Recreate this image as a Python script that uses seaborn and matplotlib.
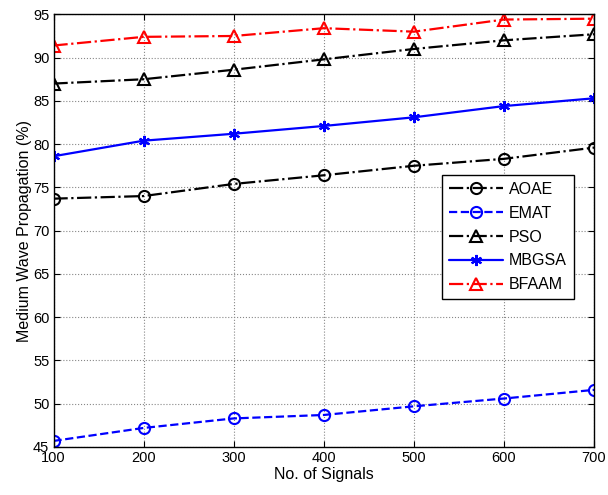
import numpy as np
import matplotlib
matplotlib.use('Agg')
import matplotlib.pyplot as plt
import seaborn as sns

# data
signals = [100, 200, 300, 400, 500, 600, 700]
aoae  = [73.7, 74.0, 75.4, 76.4, 77.5, 78.3, 79.6]
emat  = [45.7, 47.2, 48.3, 48.7, 49.7, 50.6, 51.6]
pso   = [87.0, 87.5, 88.6, 89.8, 91.0, 92.0, 92.7]
mbgsa = [78.6, 80.4, 81.2, 82.1, 83.1, 84.4, 85.3]
bfaam = [91.4, 92.4, 92.5, 93.4, 93.0, 94.4, 94.5]
names = ['AOAE', 'EMAT', 'PSO', 'MBGSA', 'BFAAM']

sns.set_style('ticks')
plt.rcParams['font.family'] = ['Liberation Sans', 'DejaVu Sans']
plt.rcParams['text.color'] = 'k'
plt.rcParams['axes.labelcolor'] = 'k'
plt.rcParams['xtick.color'] = 'k'
plt.rcParams['ytick.color'] = 'k'

fig = plt.figure(figsize=(6.08, 4.95), dpi=100)
ax = fig.add_axes([0.088, 0.097, 0.889, 0.874])

styles = [
    (aoae,  'k', '-.', 'o'),
    (emat,  'b', '--', 'o'),
    (pso,   'k', '-.', '^'),
    (mbgsa, 'b', '-',  (6, 2, 0)),
    (bfaam, 'r', '-.', '^'),
]
for (vals, c, ls, mk), nm in zip(styles, names):
    sns.lineplot(x=signals, y=vals, ax=ax, color=c, linestyle=ls, marker=mk,
                 markersize=8, markerfacecolor='none', markeredgecolor=c,
                 markeredgewidth=1.5, linewidth=1.6, label=nm)

ax.set_xlim(100, 700)
ax.set_ylim(45, 95)
ax.set_xticks(signals)
ax.set_yticks(np.arange(45, 96, 5))
ax.tick_params(direction='in', top=True, right=True, labelsize=10.5, length=4, pad=3)
ax.grid(True, color='#888888', linestyle=':', linewidth=0.8)
for s in ax.spines.values():
    s.set_color('k')
    s.set_linewidth(1)
ax.set_xlabel('No. of Signals', fontsize=11.5, labelpad=1)
ax.set_ylabel('Medium Wave Propagation (%)', fontsize=11.5, labelpad=1)

leg = ax.legend(loc='upper left', bbox_to_anchor=(0.718, 0.629), fontsize=11.5,
                frameon=True, fancybox=False, edgecolor='k', framealpha=1,
                handlelength=3.4, handletextpad=0.35, borderpad=0.45,
                labelspacing=0.55, borderaxespad=0)
leg.get_frame().set_linewidth(1)

fig.savefig('out.png', dpi=100)
